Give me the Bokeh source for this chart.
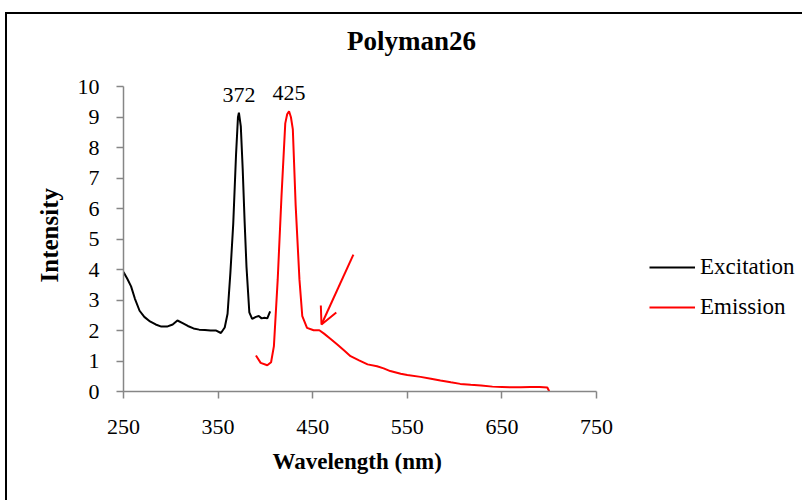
from bokeh.plotting import figure
from bokeh.models import (Range1d, FixedTicker, Label, Legend, LegendItem, Arrow, OpenHead, Title)
from bokeh.embed import file_html
from bokeh.resources import INLINE

# ---- data ----
exc_wl = [250, 254, 258, 262, 267, 272, 278, 284, 290, 296, 302, 307, 312, 318, 324, 330, 336,
          342, 348, 353, 357, 360, 363, 366, 369, 371, 372, 374, 376, 378, 380, 383, 386, 390,
          393, 396, 399, 402, 405]
exc_int = [3.92, 3.7, 3.45, 3.05, 2.65, 2.45, 2.3, 2.2, 2.13, 2.13, 2.2, 2.33, 2.25, 2.15, 2.07,
           2.03, 2.02, 2.0, 2.0, 1.92, 2.1, 2.55, 3.9, 5.5, 7.8, 9.0, 9.15, 8.7, 7.3, 5.6, 4.1,
           2.6, 2.38, 2.45, 2.48, 2.4, 2.42, 2.4, 2.63]
em_wl = [390, 395, 402, 406, 409, 413, 417, 421, 423, 425, 427, 429, 432, 436, 439, 444, 451,
         457, 462, 469, 476, 483, 490, 499, 508, 518, 525, 532, 543, 550, 564, 575, 585, 596,
         606, 617, 628, 640, 650, 660, 670, 680, 690, 698, 700]
em_int = [1.18, 0.94, 0.86, 0.96, 1.49, 3.67, 6.4, 8.8, 9.1, 9.2, 9.0, 8.6, 6.1, 3.67, 2.47,
          2.09, 2.01, 2.01, 1.9, 1.72, 1.54, 1.35, 1.16, 1.02, 0.89, 0.83, 0.76, 0.67, 0.58,
          0.54, 0.48, 0.42, 0.36, 0.3, 0.25, 0.22, 0.2, 0.16, 0.15, 0.14, 0.14, 0.15, 0.15,
          0.13, 0.01]
peak_wl = [372, 425]
peak_int = [9.15, 9.2]
peak_labels = ["372", "425"]
x_ticks = [250, 350, 450, 550, 650, 750]
y_ticks = [0, 1, 2, 3, 4, 5, 6, 7, 8, 9, 10]
arrow_from = (493, 4.49)
arrow_to = (459.3, 2.2)

SERIF = "Liberation Serif"

# The frame is extended to the right and to the top so that the title and legend
# (drawn inside the frame) are not clipped; the axes are bounded to their data span.
W, H = 797, 488
ML, MB = 116, 111
X_PX = 473 / 500      # pixels per nm
Y_PX = 304.7 / 10     # pixels per intensity unit
FW, FH = W - ML, H - MB
p = figure(width=W, height=H, output_backend="svg", toolbar_location=None,
           x_range=Range1d(x_ticks[0], x_ticks[0] + FW / X_PX),
           y_range=Range1d(y_ticks[0], y_ticks[0] + FH / Y_PX),
           min_border_left=ML, min_border_right=0, min_border_top=0, min_border_bottom=MB)
p.styles = {"border-left": "2px solid black", "border-top": "2.5px solid black",
            "margin-left": "5px", "margin-top": "12px"}
p.outline_line_color = None
p.xgrid.visible = False
p.ygrid.visible = False

r_exc = p.line(exc_wl, exc_int, line_color="black", line_width=2)
r_em = p.line(em_wl, em_int, line_color="red", line_width=2)

for ax, ticks in ((p.xaxis, x_ticks), (p.yaxis, y_ticks)):
    ax.ticker = FixedTicker(ticks=ticks)
    ax.bounds = (ticks[0], ticks[-1])
    ax.axis_line_color = "#868686"
    ax.axis_line_width = 1.5
    ax.major_tick_line_color = "#868686"
    ax.major_tick_line_width = 1.5
    ax.major_tick_in = 0
    ax.major_tick_out = 7
    ax.minor_tick_line_color = None
    ax.major_label_text_font = SERIF
    ax.major_label_text_font_size = "22px"
    ax.major_label_text_color = "black"

p.xaxis.major_label_standoff = 21
p.yaxis.major_label_standoff = 17

# axis titles
p.add_layout(Title(text="Wavelength (nm)", align="left", offset=149, standoff=24,
                   vertical_align="top",
                   text_font=SERIF, text_font_style="bold", text_font_size="23px",
                   text_color="black"), "below")
p.add_layout(Title(text="Intensity", align="left", offset=109, standoff=24,
                   text_font=SERIF, text_font_style="bold", text_font_size="25px",
                   text_color="black"), "left")

# chart title (inside the extended frame)
p.add_layout(Label(x=288, y=351, x_units="screen", y_units="screen", text="Polyman26",
                   text_font=SERIF, text_font_style="bold", text_font_size="27px",
                   text_align="center", text_baseline="alphabetic", text_color="black"))

# peak labels
for wl, it, t in zip(peak_wl, peak_int, peak_labels):
    p.add_layout(Label(x=wl, y=it, y_offset=18, text=t, text_font=SERIF, text_font_size="22px",
                       text_align="center", text_baseline="alphabetic", text_color="black"))

# arrow
p.add_layout(Arrow(x_start=arrow_from[0], y_start=arrow_from[1], x_end=arrow_to[0], y_end=arrow_to[1],
                   line_color="red", line_width=2,
                   end=OpenHead(size=17, line_color="red", line_width=2)))

# legend
legend = Legend(items=[LegendItem(label="Excitation", renderers=[r_exc]),
                       LegendItem(label="Emission", renderers=[r_em])],
                location=(526, 69), glyph_width=46, glyph_height=30, label_height=30,
                spacing=10, padding=0, margin=0, label_standoff=5,
                label_text_font=SERIF, label_text_font_size="23px", label_text_color="black",
                border_line_color=None, background_fill_alpha=0)
p.add_layout(legend, "center")

open("out.html", "w").write(file_html(p, INLINE))
